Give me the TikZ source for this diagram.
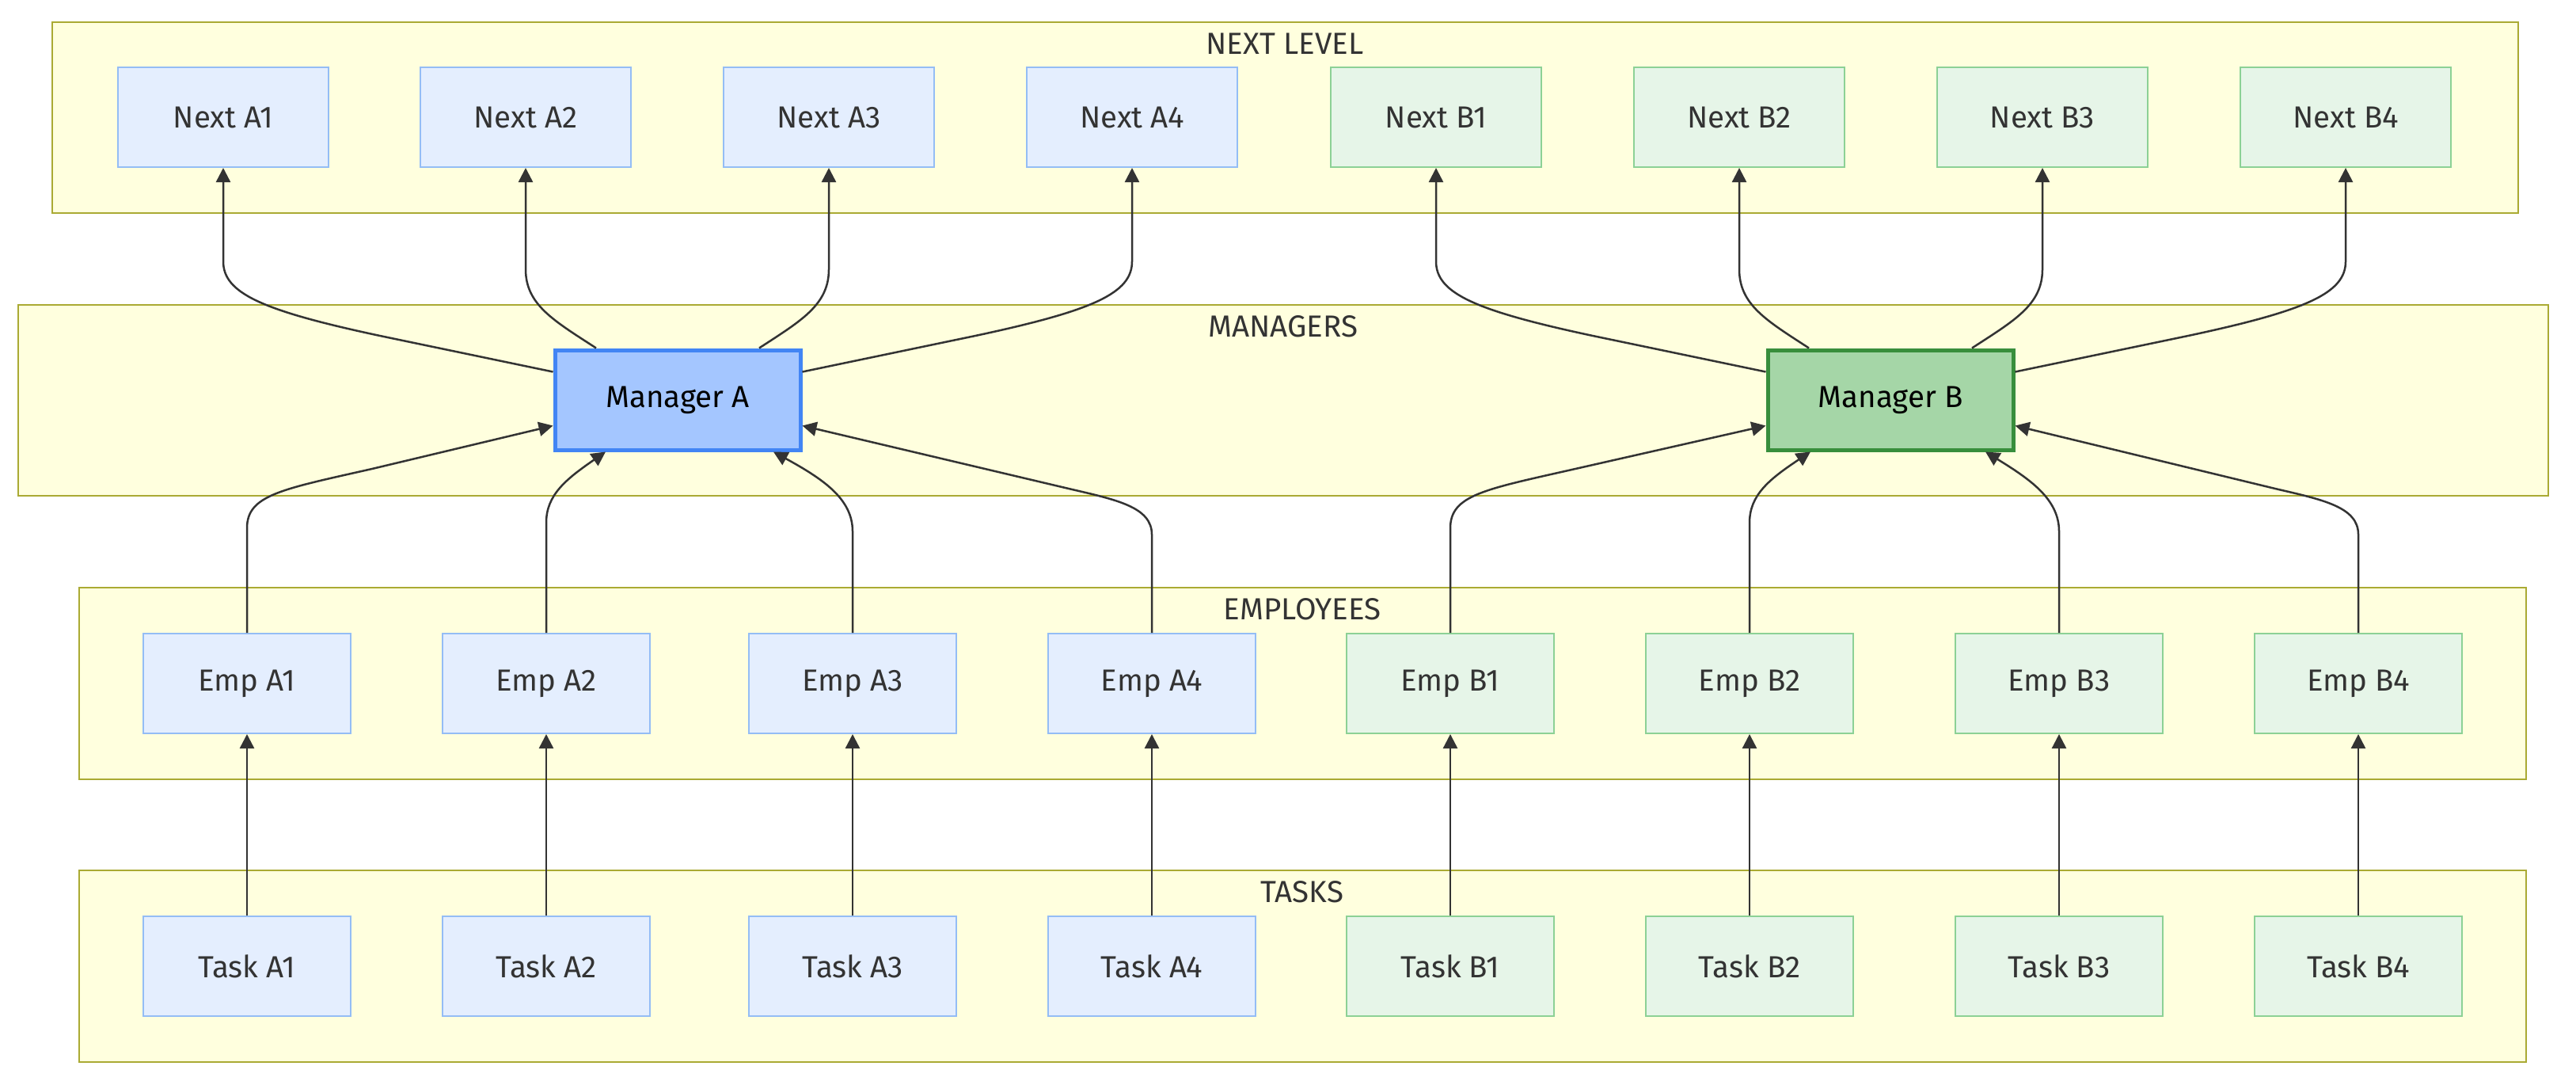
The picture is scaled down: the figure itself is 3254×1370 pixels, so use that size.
\documentclass[tikz,border=0pt]{standalone}
\usepackage{fontspec}
\setmainfont{Fira Sans}
\usetikzlibrary{arrows.meta,calc}
\definecolor{clfill}{HTML}{FFFFDE}
\definecolor{clline}{HTML}{AAAA33}
\definecolor{bfill}{HTML}{E4EEFE}
\definecolor{bline}{HTML}{94BDF5}
\definecolor{gfill}{HTML}{E6F5E8}
\definecolor{gline}{HTML}{8CD195}
\definecolor{mafill}{HTML}{A4C6FF}
\definecolor{maline}{HTML}{4285F4}
\definecolor{mbfill}{HTML}{A5D6A7}
\definecolor{mbline}{HTML}{388E3C}
\definecolor{txt}{HTML}{333333}
\begin{document}
\begin{tikzpicture}[x=1pt,y=-1pt,
  font=\fontsize{38.5}{46}\selectfont,
  cluster/.style={draw=clline, fill=clfill, line width=2pt},
  clabel/.style={text=txt, inner sep=0pt},
  basenode/.style={line width=2pt, minimum height=126pt, inner sep=0pt, text=txt},
  bnode/.style={basenode, draw=bline, fill=bfill, minimum width=266pt},
  gnode/.style={basenode, draw=gline, fill=gfill, minimum width=266pt},
  enode/.style={minimum width=262pt},
  manode/.style={basenode, line width=5pt, draw=maline, fill=mafill, minimum width=310pt, text=black},
  mbnode/.style={basenode, line width=5pt, draw=mbline, fill=mbfill, minimum width=310pt, text=black},
  conn/.style={draw=txt, line width=2.5pt, -{Triangle[length=18pt,width=18pt]}}
]
\useasboundingbox (0,0) rectangle (3254,1370);
\fill[white] (0,0) rectangle (3254,1370);

% clusters
\draw[cluster] (66,28) rectangle (3181,269);
\draw[cluster] (23,385) rectangle (3219,626);
\draw[cluster] (100,742) rectangle (3191,984);
\draw[cluster] (100,1099) rectangle (3191,1341);
\node[clabel] (lnext) at (1623,55) {NEXT LEVEL};
\node[clabel] (lman) at (1621,412) {MANAGERS};
\node[clabel] (lemp) at (1645,769) {EMPLOYEES};
\node[clabel] (ltask) at (1645,1126) {TASKS};

% next level
\node[bnode] (na1) at (282,148) {Next A1};
\node[bnode] (na2) at (664,148) {Next A2};
\node[bnode] (na3) at (1047,148) {Next A3};
\node[bnode] (na4) at (1430,148) {Next A4};
\node[gnode] (nb1) at (1814,148) {Next B1};
\node[gnode] (nb2) at (2197,148) {Next B2};
\node[gnode] (nb3) at (2580,148) {Next B3};
\node[gnode] (nb4) at (2963,148) {Next B4};

% managers
\node[manode] (ma) at (856,505) {Manager A};
\node[mbnode] (mb) at (2388,505) {Manager B};

% employees
\node[bnode,enode] (ea1) at (312,863) {Emp A1};
\node[bnode,enode] (ea2) at (690,863) {Emp A2};
\node[bnode,enode] (ea3) at (1077,863) {Emp A3};
\node[bnode,enode] (ea4) at (1455,863) {Emp A4};
\node[gnode,enode] (eb1) at (1832,863) {Emp B1};
\node[gnode,enode] (eb2) at (2210,863) {Emp B2};
\node[gnode,enode] (eb3) at (2601,863) {Emp B3};
\node[gnode,enode] (eb4) at (2979,863) {Emp B4};

% tasks
\node[bnode,enode] (ta1) at (312,1220) {Task A1};
\node[bnode,enode] (ta2) at (690,1220) {Task A2};
\node[bnode,enode] (ta3) at (1077,1220) {Task A3};
\node[bnode,enode] (ta4) at (1455,1220) {Task A4};
\node[gnode,enode] (tb1) at (1832,1220) {Task B1};
\node[gnode,enode] (tb2) at (2210,1220) {Task B2};
\node[gnode,enode] (tb3) at (2601,1220) {Task B3};
\node[gnode,enode] (tb4) at (2979,1220) {Task B4};

% tasks -> employees
\foreach \g in {a,b}{
  \foreach \i in {1,2,3,4}{
    \draw[conn] (t\g\i.north) -- (e\g\i.south);
  }
}

% manager A -> next level
\draw[conn] ($(ma.north west)+(0,30)$) -- (480,424) .. controls (330,392) and (282,370) .. (282,330) -- (na1.south);
\draw[conn] ($(ma.north)+(-103,0)$) .. controls (700,405) and (664,385) .. (664,340) -- (na2.south);
\draw[conn] ($(ma.north)+(103,0)$) .. controls (1012,405) and (1047,385) .. (1047,340) -- (na3.south);
\draw[conn] ($(ma.north east)+(0,30)$) -- (1232,424) .. controls (1382,392) and (1430,370) .. (1430,330) -- (na4.south);

% manager B -> next level
\draw[conn] ($(mb.north west)+(0,30)$) -- (2012,424) .. controls (1862,392) and (1814,370) .. (1814,330) -- (nb1.south);
\draw[conn] ($(mb.north)+(-103,0)$) .. controls (2232,405) and (2197,385) .. (2197,340) -- (nb2.south);
\draw[conn] ($(mb.north)+(103,0)$) .. controls (2544,405) and (2580,385) .. (2580,340) -- (nb3.south);
\draw[conn] ($(mb.north east)+(0,30)$) -- (2764,424) .. controls (2914,392) and (2963,370) .. (2963,330) -- (nb4.south);

% employees A -> manager A
\draw[conn] (ea1.north) -- (312,667) .. controls (312,625) and (355,618) .. (470,592) -- ($(ma.north west)+(0,98)$);
\draw[conn] (ea2.north) -- (690,660) .. controls (690,625) and (715,605) .. ($(ma.south)+(-91,0)$);
\draw[conn] (ea3.north) -- (1077,671) .. controls (1077,630) and (1040,605) .. ($(ma.south)+(121,0)$);
\draw[conn] (ea4.north) -- (1455,675) .. controls (1455,640) and (1410,631) .. (1350,617) -- ($(ma.north east)+(0,98)$);

% employees B -> manager B
\draw[conn] (eb1.north) -- (1832,667) .. controls (1832,625) and (1875,618) .. (1990,592) -- ($(mb.north west)+(0,98)$);
\draw[conn] (eb2.north) -- (2210,660) .. controls (2210,625) and (2235,605) .. ($(mb.south)+(-101,0)$);
\draw[conn] (eb3.north) -- (2601,671) .. controls (2601,630) and (2564,605) .. ($(mb.south)+(120,0)$);
\draw[conn] (eb4.north) -- (2979,675) .. controls (2979,640) and (2934,631) .. (2874,617) -- ($(mb.north east)+(0,98)$);
\end{tikzpicture}
\end{document}
